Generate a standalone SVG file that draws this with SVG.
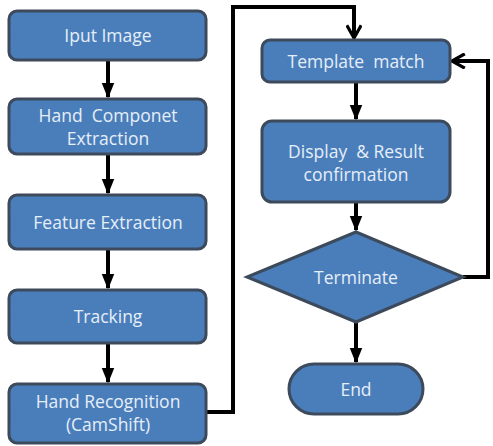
<svg xmlns="http://www.w3.org/2000/svg" width="493" height="446" viewBox="0 0 493 446">
<style>
.n{fill:#4a7ebb;stroke:#3c4a5c;stroke-width:3}
.t{fill:#e6eef8;font-family:"Open Sans","Noto Sans",sans-serif;font-size:17.5px;text-anchor:middle;white-space:pre}
.c{fill:none;stroke:#000;stroke-width:4}
</style>
<defs>
<marker id="ah" viewBox="0 0 10 10" refX="9" refY="5" markerWidth="4" markerHeight="4" orient="auto" markerUnits="strokeWidth"><path d="M0,1 L10,5 L0,9 z" fill="#000"/></marker>
<marker id="av" viewBox="0 0 10 10" refX="9" refY="5" markerWidth="4" markerHeight="4" orient="auto" markerUnits="strokeWidth"><path d="M1,0.5 L9,5 L1,9.5" fill="none" stroke="#000" stroke-width="2"/></marker>
</defs>
<rect width="493" height="446" fill="#fff"/>
<g id="connectors">
<path class="c" d="M108,61 V97" marker-end="url(#ah)"/>
<path class="c" d="M108,155 V193" marker-end="url(#ah)"/>
<path class="c" d="M108,250 V288" marker-end="url(#ah)"/>
<path class="c" d="M108,344 V382" marker-end="url(#ah)"/>
<path class="c" d="M207,412 H233 V7 H354 V38" marker-end="url(#av)"/>
<path class="c" d="M356,83 V119" marker-end="url(#ah)"/>
<path class="c" d="M356,203 V230" marker-end="url(#ah)"/>
<path class="c" d="M463,277 H488 V61 H452" marker-end="url(#av)"/>
<path class="c" d="M356,323 V362" marker-end="url(#ah)"/>
</g>
<g id="n1"><rect class="n" x="9" y="11" width="197" height="49" rx="8"/><text class="t" x="108" y="42">Iput Image</text></g>
<g id="n2"><rect class="n" x="9" y="99" width="197" height="55" rx="8"/><text class="t" x="108" y="122" xml:space="preserve">Hand  Componet</text><text class="t" x="108" y="145">Extraction</text></g>
<g id="n3"><rect class="n" x="9" y="195" width="197" height="54" rx="8"/><text class="t" x="108" y="229">Feature Extraction</text></g>
<g id="n4"><rect class="n" x="9" y="290" width="197" height="53" rx="8"/><text class="t" x="108" y="323">Tracking</text></g>
<g id="n5"><rect class="n" x="9" y="384" width="197" height="59" rx="8"/><text class="t" x="108" y="408">Hand Recognition</text><text class="t" x="108" y="431">(CamShift)</text></g>
<g id="n6"><rect class="n" x="262" y="40" width="188" height="42" rx="8"/><text class="t" x="356" y="68" xml:space="preserve">Template  match</text></g>
<g id="n7"><rect class="n" x="262" y="121" width="188" height="81" rx="10"/><text class="t" x="356" y="158" xml:space="preserve">Display  &amp; Result</text><text class="t" x="356" y="181">confirmation</text></g>
<g id="n8"><polygon class="n" points="356,232 463,277 356,322 247,277"/><text class="t" x="356" y="284">Terminate</text></g>
<g id="n9"><rect class="n" x="289" y="364" width="134" height="50" rx="25"/><text class="t" x="356" y="396">End</text></g>
</svg>
